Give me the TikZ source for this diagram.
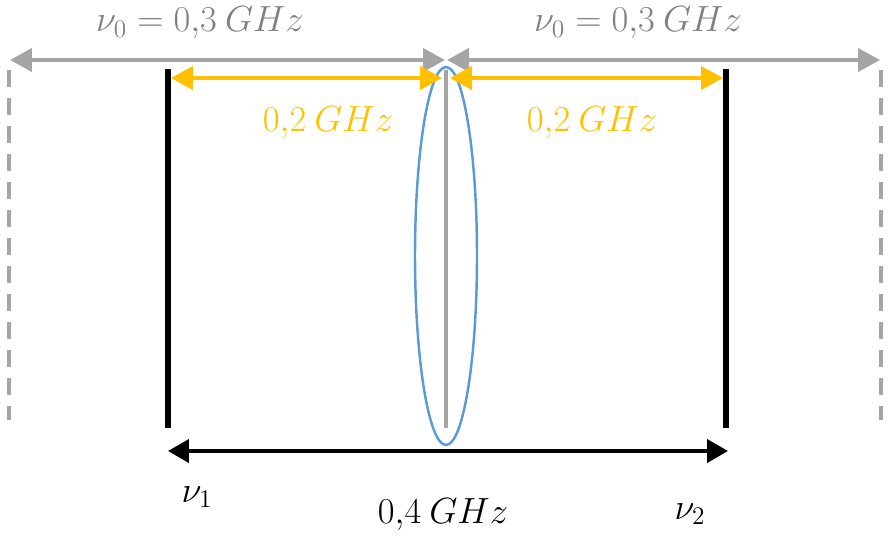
\documentclass[tikz,border=0pt]{standalone}
\usepackage{amsmath}
\usepackage{tikz}
\usetikzlibrary{arrows.meta,positioning}
\definecolor{linegray}{HTML}{A5A5A5}
\definecolor{textgray}{HTML}{808080}
\definecolor{ambar}{HTML}{FFC000}
\definecolor{lensblue}{HTML}{5B9BD5}

\tikzset{
  grayarr/.style={{Triangle[length=0.44cm, width=0.46cm]}-{Triangle[length=0.44cm, width=0.46cm]}, line width=2.3pt, linegray},
  yelarr/.style={{Triangle[length=0.44cm, width=0.46cm]}-{Triangle[length=0.44cm, width=0.46cm]}, line width=2.5pt, ambar},
  blkarr/.style={{Triangle[length=0.42cm, width=0.46cm]}-{Triangle[length=0.42cm, width=0.46cm]}, line width=2.3pt, black},
  bar/.style={line width=3.4pt, black},
  ghost/.style={line width=2.3pt, linegray, dash pattern=on 0.34cm off 0.22cm},
  lbl/.style={font=\fontsize{22}{26}\selectfont, inner sep=0pt}
}

\begin{document}
\begin{tikzpicture}[x=0.02cm, y=-0.02cm]

\useasboundingbox (0,0) rectangle (889,535);

% Frequency marks
\coordinate (d1t) at (9,70);    \coordinate (d1b) at (9,420);
\coordinate (d2t) at (881,70);  \coordinate (d2b) at (881,420);
\coordinate (b1t) at (168,69);  \coordinate (b1b) at (168,428);
\coordinate (b2t) at (726,69);  \coordinate (b2b) at (726,428);
\coordinate (ct) at (446,70);   \coordinate (cb) at (446,428);

\draw[ghost] (d1t) -- (d1b);
\draw[ghost] (d2t) -- (d2b);
\draw[bar] (b1t) -- (b1b);
\draw[bar] (b2t) -- (b2b);
\draw[line width=2.3pt, linegray] (ct) -- (cb);

% Lens around the centre
\draw[lensblue, line width=1.4pt] (446,256) ellipse [x radius=31, y radius=189];

% Gray arrows: nu_0
\coordinate (gL) at (10,60);   \coordinate (gM1) at (445,60);
\coordinate (gM2) at (447,60); \coordinate (gR) at (880,60);
\draw[grayarr] (gL) -- (gM1);
\draw[grayarr] (gM2) -- (gR);

% Yellow arrows
\coordinate (yL) at (171,78);  \coordinate (yM1) at (442,78);
\coordinate (yM2) at (450,78); \coordinate (yR) at (723,78);
\draw[yelarr] (yL) -- (yM1);
\draw[yelarr] (yM2) -- (yR);

% Black arrow
\coordinate (kL) at (168,451); \coordinate (kR) at (728,451);
\draw[blkarr] (kL) -- (kR);

% Labels
\node[lbl, textgray] (nuL) at (200,23) {$\nu_0 = 0{,}3\:GHz$};
\node[lbl, textgray] (nuR) at (638,23) {$\nu_0 = 0{,}3\:GHz$};
\node[lbl, ambar] (dL) at (328,123) {$0{,}2\:GHz$};
\node[lbl, ambar] (dR) at (592,123) {$0{,}2\:GHz$};
\node[lbl] (nu1) at (197,497) {$\nu_1$};
\node[lbl] (sep) at (443,515) {$0{,}4\:GHz$};
\node[lbl] (nu2) at (690,514) {$\nu_2$};

\end{tikzpicture}
\end{document}
